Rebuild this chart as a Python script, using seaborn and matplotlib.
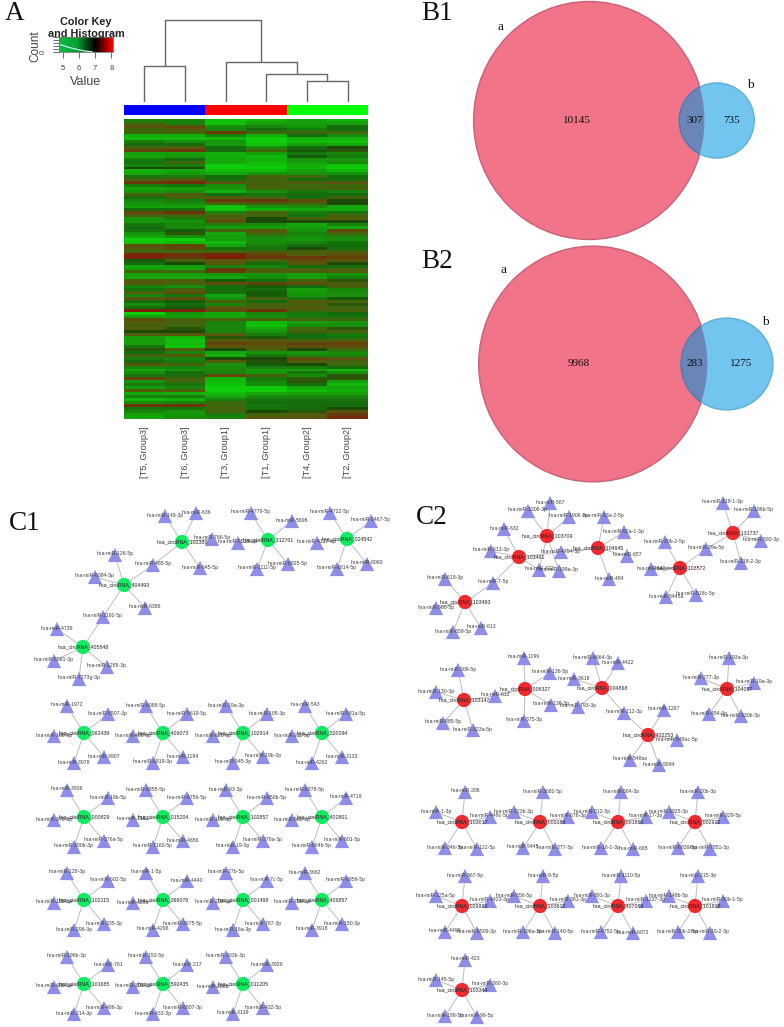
import numpy as np
import pandas as pd
import seaborn as sns
import matplotlib
matplotlib.use("Agg")
import matplotlib.pyplot as plt
from matplotlib.colors import LinearSegmentedColormap, ListedColormap
from matplotlib.patches import Ellipse

sns.set_theme(style="white")
plt.rcParams["font.family"] = ["Liberation Sans", "DejaVu Sans"]

# ---------- Panel A data ----------
samples = ["[T5, Group3]", "[T6, Group3]", "[T3, Group1]", "[T1, Group1]", "[T4, Group2]", "[T2, Group2]"]
expr_top = [
    [5.8,5.8,5.1,5.3,5.5,5.3],[6.5,5.8,5.1,5.5,5.5,5.5],[6.8,6.9,5.7,5.8,5.6,6.1],[6.5,6.8,5.8,6.1,5.9,6.1],
    [6.5,6.5,7.1,6.5,6.5,6.5],[5.3,5.3,5.8,5.3,6.1,5.7],[5.2,5.2,5.2,5.0,5.3,5.3],[5.9,5.7,5.6,5.0,5.2,5.1],
    [6.1,6.1,5.5,5.1,5.5,5.4],[6.6,6.7,6.1,5.7,6.1,6.3],[7.0,7.1,6.1,6.5,6.2,6.4],[5.5,5.5,5.3,5.5,6.0,5.8],
    [5.4,5.6,5.3,5.2,6.2,5.9],[5.9,6.1,5.4,5.3,5.6,5.6],[6.0,6.5,5.4,5.2,5.5,5.7],[5.8,5.9,5.0,5.1,5.3,5.1],
    [6.3,6.3,5.0,5.0,5.3,5.0],[5.3,5.4,5.2,5.2,5.5,5.2],[5.4,5.5,5.4,5.6,5.6,5.6],[6.0,5.9,6.1,6.6,6.5,6.1],
    [6.6,6.8,6.1,6.5,6.1,6.1],[7.1,7.2,6.8,6.6,6.7,6.8],[5.9,6.0,5.7,6.6,6.5,6.5],[5.4,5.5,5.6,6.5,6.5,6.6],
    [5.6,5.7,5.3,5.7,6.0,5.8],[6.6,6.7,6.1,6.0,6.1,6.1],
]
expr_upper = [
    [6.1,6.6,6.7,6.5,6.1,6.6],[5.8,5.9,7.1,7.2,6.9,6.3],[5.6,5.7,6.6,6.6,6.6,6.3],[5.5,5.5,5.1,5.6,5.7,5.4],
    [6.1,6.1,5.1,5.3,5.4,5.4],[7.0,7.2,5.8,6.6,5.9,6.0],[6.6,6.6,6.6,6.5,6.0,6.6],[5.6,5.9,6.7,6.3,6.6,6.7],
    [5.6,5.6,6.9,6.3,6.3,6.3],[6.0,5.8,5.8,5.7,5.4,5.8],[6.1,5.7,5.5,5.5,5.5,5.4],[6.0,6.2,6.6,6.8,5.6,6.9],
    [5.6,6.4,5.4,6.6,5.8,6.6],[5.4,5.7,5.5,5.8,5.7,5.8],[5.0,5.0,5.5,5.7,5.6,5.7],[5.1,5.2,5.2,5.7,5.8,6.0],
    [6.9,7.0,5.4,5.9,6.1,6.1],[6.7,6.9,6.1,6.0,6.3,6.1],[6.5,6.5,6.5,6.6,6.6,6.6],[7.4,7.2,7.4,7.0,6.7,6.9],
    [7.4,7.1,7.5,7.1,7.1,7.0],[6.2,6.6,6.8,6.6,6.9,6.8],[6.1,6.3,6.8,6.1,6.8,6.3],[5.4,5.5,5.8,5.8,6.1,6.1],
    [5.5,5.4,7.1,6.6,6.6,6.6],[6.5,6.5,7.1,6.7,6.7,6.7],
]
expr_lower = [
    [5.5,5.5,5.6,5.6,5.5,5.6],[5.4,5.4,5.4,5.7,5.5,5.9],[6.7,6.7,6.2,6.1,6.6,6.4],[6.8,6.6,6.9,7.0,6.9,6.7],
    [5.8,5.7,6.1,6.2,6.1,6.6],[6.0,6.6,6.1,6.1,5.5,5.8],[6.7,6.9,6.1,6.2,5.6,5.7],[5.8,6.0,5.4,6.2,5.6,5.7],
    [6.8,6.9,5.7,6.6,6.0,6.2],[6.1,6.2,6.6,6.1,6.8,6.6],[5.7,6.1,5.8,6.6,6.6,6.4],[6.1,6.2,6.8,6.6,6.8,6.5],
    [7.5,7.4,6.9,7.2,6.5,6.6],[5.0,5.6,5.4,5.8,6.0,6.1],[5.5,5.5,5.4,5.7,5.9,6.0],[6.9,6.6,6.6,6.6,6.6,6.5],
    [6.7,6.6,5.8,5.2,5.5,5.6],[6.6,6.5,5.8,5.1,5.7,5.7],[6.7,6.4,5.8,5.4,6.5,6.4],[6.3,6.3,5.8,5.6,6.6,6.6],
    [6.7,6.8,6.8,5.9,6.1,5.9],[5.5,5.3,6.4,6.2,6.1,6.0],[5.5,5.1,6.7,6.8,6.6,6.7],[5.5,5.2,7.0,6.9,7.0,7.0],
    [6.0,5.1,6.8,6.8,6.9,6.9],[6.4,6.7,6.3,6.6,6.3,6.5],
]
expr_bottom = [
    [6.1,5.8,5.4,5.6,5.6,5.7],[6.6,6.8,5.3,6.0,5.8,5.8],[5.9,5.8,6.3,6.3,6.9,6.8],[6.1,5.9,6.7,6.35,6.7,6.6],
    [6.8,6.6,5.6,6.2,6.3,6.5],[5.8,5.8,5.7,5.9,5.9,6.1],[5.4,5.6,5.8,5.5,5.5,5.2],[5.7,6.1,5.8,5.6,6.0,5.7],
    [6.0,6.1,7.0,6.6,5.7,6.4],[7.0,6.6,5.3,6.0,6.4,6.4],[5.6,6.5,5.2,5.8,6.4,5.5],[5.9,6.0,5.1,5.7,6.1,5.2],
    [5.5,5.8,5.0,5.0,5.4,5.4],[6.7,6.7,5.0,5.0,5.2,5.3],[5.4,5.3,5.2,5.4,5.5,5.5],[5.8,5.9,5.4,5.7,5.8,5.8],
    [5.2,5.3,5.8,6.0,6.0,6.0],[5.7,5.8,6.5,6.1,6.1,6.1],[7.2,7.2,6.5,6.0,6.1,6.1],[6.0,6.0,6.5,6.0,6.1,6.3],
    [5.8,5.6,6.6,6.3,6.4,6.8],[5.5,5.6,5.9,6.6,6.7,7.1],[5.4,5.7,5.8,6.8,6.8,7.3],
]
group_codes = [0, 0, 1, 1, 2, 2]
group_colors = ["#0000FF", "#FF0000", "#00FF00"]
# dendrogram merge heights
merge_t5_t6 = 36
merge_t4_t2 = 21
merge_t1 = 28
merge_t3 = 40
merge_root = 82
key_ticks = [5, 6, 7, 8]
key_hist_value = [4.8, 5.2, 5.6, 6.0, 6.4, 6.8]
key_hist_count = [5.0, 3.6, 2.4, 1.4, 0.6, 0.2]

# ---------- Panel B data ----------
venn_b1 = {"only_a": 10145, "both": 307, "only_b": 735}
venn_b2 = {"only_a": 9968, "both": 283, "only_b": 1275}

# ---------- Panel C data ----------
c1_grid_hubs = [
    ["062439", "406073", "102914", "320094"],
    ["000829", "015204", "102857", "402801"],
    ["102115", "366078", "001498", "406857"],
    ["101685", "592435", "011205"],
]
c1_grid_mirs = {
    "062439": ["1972", "6507-3p", "186-5p", "3978", "3907"],
    "406073": ["6088-5p", "5619-5p", "488-5p", "6819-3p", "1184"],
    "102914": ["19a-3p", "105-3p", "620-5p", "545-3p", "19b-3p"],
    "320094": ["543", "581a-5p", "211-5p", "4262", "3133"],
    "000829": ["3936", "18b-5p", "376-3p", "200b-3p", "376a-5p"],
    "015204": ["6855-5p", "6756-5p", "7163", "7160-5p", "4656"],
    "102857": ["93-3p", "450b-5p", "106-3p", "19-3p", "376a-3p"],
    "402801": ["6878-5p", "4719", "583-3p", "664b-5p", "601-5p"],
    "102115": ["128-3p", "602-5p", "186-5p", "296-3p", "335-3p"],
    "366078": ["1-5p", "4440", "4295", "4296", "3675-5p"],
    "001498": ["27b-5p", "7c-5p", "204-5p", "16a-3p", "767-3p"],
    "406857": ["3662", "6859-5p", "769-5p", "3918", "150-3p"],
    "101685": ["196b-3p", "761", "486-5p", "214-3p", "486-3p"],
    "592435": ["153-5p", "217", "301-5p", "433-3p", "6807-3p"],
    "011205": ["203b-3p", "3929", "3065", "3139", "432-5p"],
}
c2_grid_hubs = [
    ["103017", "000286", "001892", "002922"],
    ["029990", "103612", "407088", "101938"],
    ["103344"],
]
c2_grid_mirs = {
    "103017": ["206", "1-3p", "449c-5p", "346-5p", "122-5p"],
    "000286": ["3682-5p", "323b-3p", "676-3p", "5445", "377-5p"],
    "001892": ["584-3p", "512-5p", "17-3p", "16-1-3p", "665"],
    "002922": ["20b-3p", "3925-3p", "329-5p", "6839-5p", "7851-3p"],
    "029990": ["367-5p", "125a-5p", "4423-3p", "4499", "6509-3p"],
    "103612": ["9-5p", "656-5p", "361-3p", "196a-3p", "140-5p"],
    "407088": ["1110-5p", "891-3p", "1237-3p", "4752-5p", "6072"],
    "101938": ["215-3p", "148b-5p", "30b-1-5p", "30b-2-5p", "16-2-3p"],
    "103344": ["423", "145-5p", "380-3p", "188-5p", "96-5p"],
}
c1_free_edges = {
    "102380": ["149-3p", "636", "766-5p", "645-5p", "485-5p"],
    "312761": ["4779-5p", "5698", "6515-5p", "1111-5p", "6825-5p"],
    "024542": ["4722-5p", "2467-5p", "4727-5p", "6814-5p", "8060"],
    "404493": ["126-5p", "6084-5p", "6386", "3192-5p", "485-5p"],
    "405848": ["4739", "5581-3p", "1285-3p", "7273g-3p", "3192-5p"],
}
c2_free_edges = {
    "103491": ["632", "613-3p", "7-5p", "4754-5p", "422"],
    "103709": ["567", "3206-3p", "1906-3p", "422", "199a-3p"],
    "104645": ["93a-2-5p", "92a-1-3p", "657", "484", "4754-5p"],
    "103572": ["20b-2-5p", "29a-5p", "548", "5445a", "518c-5p"],
    "131737": ["218-1-3p", "196b-5p", "593-3p", "218-2-3p", "29a-5p"],
    "103493": ["619-3p", "580-5p", "659-5p", "613", "7-5p"],
    "103147": ["509-5p", "130-3p", "885-5p", "323a-5p", "612"],
    "006327": ["1199", "136-5p", "136-3p", "375-3p", "612"],
    "004868": ["4664-3p", "4422", "3618", "793-3p", "212-3p"],
    "402253": ["1267", "548ac-5p", "548ax", "5694", "212-3p"],
    "104057": ["193a-3p", "277-3p", "19a-3p", "454-3p", "330b-3p"],
}

# ---------- Layout (pixels of the page) ----------
W, H = 784, 1027
c1_grid_x = [84, 163, 243, 322]
c1_grid_y = [733, 817, 900, 984]
c1_leaf_offsets = [(-17, -27), (24, -19), (-30, 3), (-10, 30), (20, 24)]
c2_grid_x = [462, 540, 618, 695]
c2_grid_y = [822, 906, 990]
c2_leaf_offsets = [(3, -30), (-26, -10), (28, -5), (-17, 26), (15, 27)]
c1_hub_pos = {"102380": (182, 542), "312761": (268, 540), "024542": (347, 539),
              "404493": (124, 585), "405848": (83, 647)}
c1_leaf_pos = {"149-3p": (165, 516), "636": (196, 513), "766-5p": (212, 539), "645-5p": (200, 568),
               "485-5p": (153, 565), "4779-5p": (251, 513), "5698": (292, 521), "6515-5p": (238, 543),
               "1111-5p": (257, 569), "6825-5p": (288, 564), "4722-5p": (330, 513), "2467-5p": (371, 521),
               "4727-5p": (317, 543), "6814-5p": (337, 569), "8060": (367, 564), "126-5p": (115, 555),
               "6084-5p": (95, 577), "6386": (145, 608), "3192-5p": (103, 617), "4739": (57, 629),
               "5581-3p": (54, 661), "1285-3p": (107, 667), "7273g-3p": (79, 679)}
c2_hub_pos = {"103491": (519, 557), "103709": (547, 536), "104645": (598, 548), "103572": (680, 568),
              "131737": (733, 533), "103493": (465, 602), "103147": (464, 700), "006327": (525, 689),
              "004868": (602, 688), "402253": (648, 735), "104057": (727, 689)}
c2_leaf_pos = {"632": (504, 529), "613-3p": (491, 551), "7-5p": (493, 583), "567": (550, 503),
               "3206-3p": (528, 511), "1906-3p": (569, 517), "4754-5p": (561, 552), "422": (539, 570),
               "199a-3p": (559, 571), "93a-2-5p": (604, 517), "92a-1-3p": (624, 532), "657": (627, 556),
               "484": (609, 579), "20b-2-5p": (665, 542), "29a-5p": (706, 549), "548": (651, 569),
               "5445a": (666, 597), "518c-5p": (696, 595), "218-1-3p": (723, 503), "196b-5p": (754, 511),
               "593-3p": (761, 541), "218-2-3p": (741, 563), "619-3p": (445, 579), "580-5p": (436, 608),
               "659-5p": (453, 632), "613": (481, 628), "509-5p": (458, 670), "130-3p": (436, 692),
               "885-5p": (443, 723), "323a-5p": (473, 730), "612": (495, 696), "1199": (524, 658),
               "136-5p": (550, 673), "136-3p": (551, 705), "375-3p": (524, 721), "4664-3p": (593, 658),
               "4422": (618, 663), "3618": (574, 679), "793-3p": (578, 707), "212-3p": (624, 713),
               "1267": (664, 710), "548ac-5p": (677, 740), "548ax": (630, 760), "5694": (659, 765),
               "193a-3p": (729, 658), "277-3p": (701, 678), "19a-3p": (754, 683), "454-3p": (709, 714),
               "330b-3p": (741, 716)}


def px_axes(fig, x0, y0, x1, y1, **kw):
    return fig.add_axes([x0 / W, 1 - y1 / H, (x1 - x0) / W, (y1 - y0) / H], **kw)


fig = plt.figure(figsize=(W / 100, H / 100), dpi=100, facecolor="white")

# ---------- Heatmap ----------
matrix = pd.DataFrame(expr_top + expr_upper + expr_lower + expr_bottom, columns=samples)
heat_stops = [(0.00, (15, 205, 10)), (0.16, (20, 165, 12)), (0.32, (25, 132, 12)), (0.44, (20, 108, 12)),
              (0.52, (25, 72, 8)), (0.60, (62, 102, 12)), (0.72, (88, 86, 12)), (0.84, (104, 56, 12)),
              (1.00, (125, 28, 10))]
heat_cmap = LinearSegmentedColormap.from_list(
    "heat", [(p, tuple(c / 255 for c in rgb)) for p, rgb in heat_stops])
ax_heat = px_axes(fig, 124, 119, 368, 419)
sns.heatmap(matrix, ax=ax_heat, cmap=heat_cmap, vmin=5.0, vmax=7.5, cbar=False,
            xticklabels=True, yticklabels=False)
ax_heat.tick_params(axis="x", length=0, pad=5)
ax_heat.set_xticklabels(samples, rotation=90, fontsize=6.6, color="#444444")
for lab in ax_heat.get_xticklabels():
    lab.set_ha("center")

ax_side = px_axes(fig, 124, 105, 368, 115)
sns.heatmap(pd.DataFrame([group_codes]), ax=ax_side, cmap=ListedColormap(group_colors),
            cbar=False, xticklabels=False, yticklabels=False)

# ---------- Dendrogram ----------
ax_den = px_axes(fig, 124, 10, 368, 102)
ax_den.set_xlim(0, 6)
ax_den.set_ylim(0, 92)
ax_den.axis("off")
den_kw = dict(color="#666666", lw=1.0)
def join(ax, xl, hl, xr, hr, h):
    ax.plot([xl, xl, xr, xr], [hl, h, h, hr], **den_kw)
    return (xl + xr) / 2, h
blue = join(ax_den, 0.5, 0, 1.5, 0, merge_t5_t6)
g2 = join(ax_den, 4.5, 0, 5.5, 0, merge_t4_t2)
g1 = join(ax_den, 3.5, 0, g2[0], g2[1], merge_t1)
red = join(ax_den, 2.5, 0, g1[0], g1[1], merge_t3)
join(ax_den, blue[0], blue[1], red[0], red[1], merge_root)

# ---------- Colour key ----------
key_low, key_high = 4.75, 8.1
key_cmap = LinearSegmentedColormap.from_list("key", ["#00C040", "#00A030", "#000000", "#FF0000"])
ax_key = px_axes(fig, 59, 37, 113, 52)
ax_key.imshow(np.linspace(0, 1, 200)[None, :], aspect="auto", cmap=key_cmap,
              extent=[key_low, key_high, 0, 10])
sns.lineplot(x=key_hist_value, y=key_hist_count, ax=ax_key, color="#BFEFEF", lw=0.9)
ax_key.set_xlim(key_low, key_high)
ax_key.set_ylim(0, 10)
ax_key.set_xticks(key_ticks)
ax_key.set_xticklabels([str(t) for t in key_ticks], fontsize=5.6, color="#444444")
ax_key.set_yticks([0, 2, 4, 6, 8, 10])
ax_key.set_yticklabels(["0", "", "", "", "", ""], rotation=90, va="center", fontsize=5.5, color="#444444")
ax_key.tick_params(axis="both", length=4, width=0.6, color="#555555", pad=5, bottom=True, left=True)
ax_key.set_xlabel("Value", fontsize=9, color="#444444", labelpad=3)
for s in ax_key.spines.values():
    s.set_edgecolor("#777777")
    s.set_linewidth(0.6)

# ---------- Overlay: Venn and networks ----------
ov = fig.add_axes([0, 0, 1, 1], facecolor="none", zorder=5)
ov.set_xlim(0, W)
ov.set_ylim(H, 0)
ov.axis("off")
serif = "Liberation Serif"
ov.text(86, 22, "Color Key", ha="center", va="center", fontsize=7.8, fontweight="bold", color="#222222")
ov.text(86, 34, "and Histogram", ha="center", va="center", fontsize=7.8, fontweight="bold", color="#222222")
ov.text(35, 46, "Count", rotation=90, ha="center", va="center", fontsize=8.5, color="#444444")
for lab, x, y in [("A", 15, 14), ("B1", 437, 14), ("B2", 437, 261), ("C1", 25, 523), ("C2", 432, 517)]:
    ov.text(x, y, lab, ha="center", va="center", fontsize=19.5, family=serif, color="#111111")


def venn(ax, counts, cx_a, cy, cx_b, pos):
    size_a = counts["only_a"] + counts["both"]
    size_b = counts["only_b"] + counts["both"]
    k = 119 / np.sqrt(10452)
    ra, rb = k * np.sqrt(size_a), k * np.sqrt(size_b)
    a = Ellipse((cx_a, cy), 2 * ra * 0.97, 2 * ra, fc="#F17488", ec="#C9607A", lw=1.0, zorder=1)
    b = Ellipse((cx_b, cy), 2 * rb, 2 * rb, fc="#72C5EE", ec="#5FAFD8", lw=1.0, zorder=2)
    both = Ellipse((cx_b, cy), 2 * rb, 2 * rb, fc="#6A86B8", ec="#5A76A8", lw=1.0, zorder=3)
    ax.add_patch(a)
    ax.add_patch(b)
    ax.add_patch(both)
    clip = Ellipse((cx_a, cy), 2 * ra * 0.97, 2 * ra, transform=ax.transData)
    both.set_clip_path(clip)
    num_kw = dict(ha="center", va="center", fontsize=8, family=serif, color="#111111", zorder=6)
    ax.text(pos[0], cy, str(counts["only_a"]), **num_kw)
    ax.text(pos[1], cy, str(counts["both"]), **num_kw)
    ax.text(pos[2], cy, str(counts["only_b"]), **num_kw)
    ax.text(pos[3], pos[4], "a", ha="center", va="center", fontsize=9.5, family=serif, color="#111111")
    ax.text(pos[5], pos[6], "b", ha="center", va="center", fontsize=9.5, family=serif, color="#111111")


venn(ov, venn_b1, 589, 120.5, 716.7, (577, 695, 732, 501, 27, 750, 85))
venn(ov, venn_b2, 593, 364, 727, (579, 695, 741, 504, 270, 765, 322))


def build_network(hub_pos, leaf_pos, edges, grid_hubs, grid_mirs, grid_x, grid_y, offsets):
    hubs, leaves, links = [], [], []
    for hub, mirs in edges.items():
        hx, hy = hub_pos[hub]
        hubs.append((hub, hx, hy))
        for m in mirs:
            lx, ly = leaf_pos[m]
            links.append((hx, hy, lx, ly))
    for m, (lx, ly) in leaf_pos.items():
        leaves.append((m, lx, ly))
    for row, ry in zip(grid_hubs, grid_y):
        for hub, hx in zip(row, grid_x):
            hubs.append((hub, hx, ry))
            for m, (dx, dy) in zip(grid_mirs[hub], offsets):
                leaves.append((m, hx + dx, ry + dy))
                links.append((hx, ry, hx + dx, ry + dy))
    return (pd.DataFrame(hubs, columns=["name", "x", "y"]),
            pd.DataFrame(leaves, columns=["name", "x", "y"]), links)


def draw_network(ax, hubs, leaves, links, hub_color):
    for x0, y0, x1, y1 in links:
        ax.plot([x0, x1], [y0, y1], color="#BDBDBD", lw=0.7, zorder=6)
    sns.scatterplot(data=leaves, x="x", y="y", ax=ax, marker="^", s=105, color="#8E8EE8",
                    edgecolor="none", linewidth=0, zorder=7, legend=False)
    sns.scatterplot(data=hubs, x="x", y="y", ax=ax, marker="o", s=105, color=hub_color,
                    edgecolor="none", linewidth=0, zorder=8, legend=False)
    for r in leaves.itertuples():
        ax.text(r.x, r.y - 1, "hsa-miR-" + r.name, ha="center", va="center", fontsize=3.7,
                color="#3A3A3A", zorder=9)
    for r in hubs.itertuples():
        ax.text(r.x, r.y, "hsa_circRNA_" + r.name, ha="center", va="center", fontsize=3.8,
                color="#222222", zorder=9)


hubs1, leaves1, links1 = build_network(c1_hub_pos, c1_leaf_pos, c1_free_edges, c1_grid_hubs,
                                       c1_grid_mirs, c1_grid_x, c1_grid_y, c1_leaf_offsets)
hubs2, leaves2, links2 = build_network(c2_hub_pos, c2_leaf_pos, c2_free_edges, c2_grid_hubs,
                                       c2_grid_mirs, c2_grid_x, c2_grid_y, c2_leaf_offsets)
draw_network(ov, hubs1, leaves1, links1, "#10EC60")
draw_network(ov, hubs2, leaves2, links2, "#F02A2E")
ov.set_xlim(0, W)
ov.set_ylim(H, 0)
ov.set_xlabel("")
ov.set_ylabel("")

fig.savefig("out.png", dpi=100, facecolor="white")
